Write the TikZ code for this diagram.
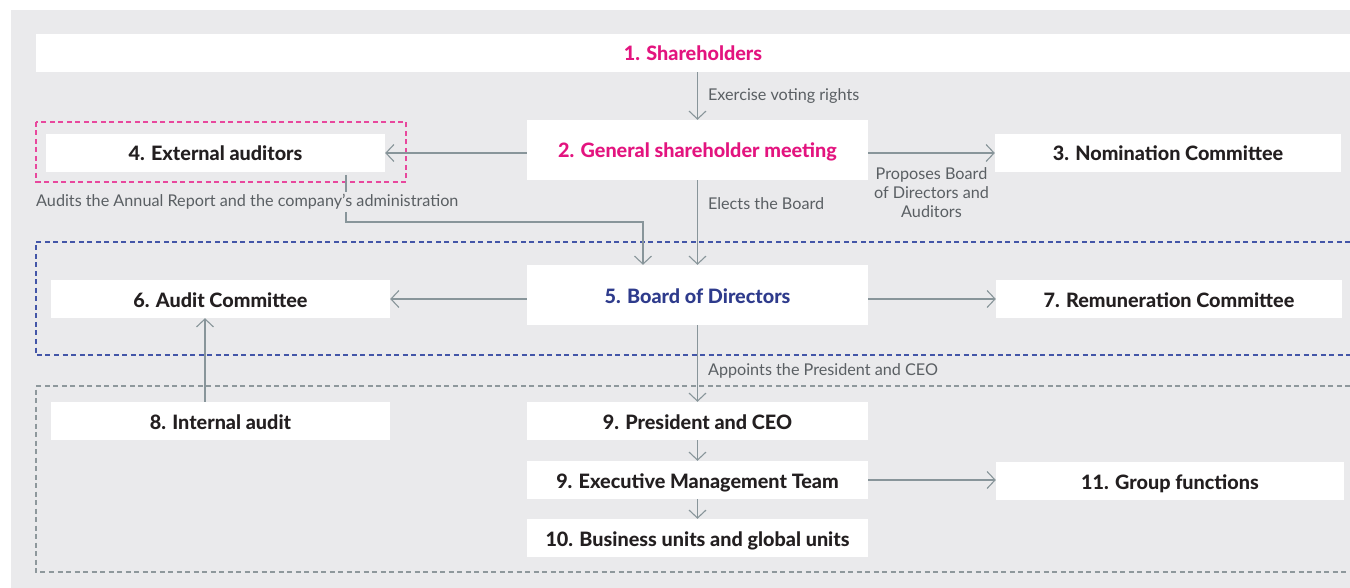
\documentclass[tikz,border=0pt]{standalone}
\usepackage{fontspec}
\setmainfont{Lato}[BoldFont={Lato Heavy}]
\usetikzlibrary{arrows.meta}

\definecolor{panel}{HTML}{EAEAEC}
\definecolor{ink}{HTML}{231F20}
\definecolor{owners}{HTML}{E3147F}
\definecolor{boardblue}{HTML}{2E3B8C}
\definecolor{ownersline}{HTML}{E8489D}
\definecolor{boardline}{HTML}{4356A8}
\definecolor{opsline}{HTML}{8E989C}
\definecolor{linkgrey}{HTML}{88959A}
\definecolor{notegrey}{HTML}{5A5F63}

\begin{document}
\begin{tikzpicture}[x=1pt,y=-1pt,
        box/.style={fill=white,inner sep=0pt,minimum height=38pt,text=ink,
            text height=17pt,text depth=1pt,font=\fontsize{19.8}{22}\selectfont\bfseries},
        wide box/.style={box,minimum height=60pt,minimum width=341pt},
        link/.style={-{Straight Barb[length=8pt,width=17pt]},draw=linkgrey,line width=1.1pt},
        note/.style={inner sep=0pt,text=notegrey,font=\fontsize{16.2}{19}\selectfont},
        frame/.style={dash pattern=on 5pt off 3.5pt,line width=1.1pt}]

    \useasboundingbox (0,0) rectangle (1350,588);
    \fill[panel] (11,10) rectangle (1350,588);

    \draw[frame,draw=ownersline] (36,122) rectangle (406,182);
    \draw[frame,draw=boardline] (1350,242) -| (36,355) -- (1350,355);
    \draw[frame,draw=opsline] (1350,386) -| (36,572) -- (1350,572);

    \node[box,minimum width=1314pt,text=owners] (share) at (693,53) {1. Shareholders};
    \node[wide box,text=owners] (meeting) at (697.5,150) {2. General shareholder meeting};
    \node[box,minimum width=339pt] (extaud) at (215.5,153) {4. External auditors};
    \node[box,minimum width=346pt] (nomination) at (1168,153) {3. Nomination Committee};
    \node[wide box,text=boardblue] (board) at (697.5,295) {5. Board of Directors};
    \node[box,minimum width=339pt] (auditcom) at (220.5,299) {6. Audit Committee};
    \node[box,minimum width=346pt] (remuneration) at (1169,299) {7. Remuneration Committee};
    \node[box,minimum width=339pt] (internal) at (220.5,421) {8. Internal audit};
    \node[box,minimum width=341pt] (ceo) at (697.5,421) {9. President and CEO};
    \node[box,minimum width=341pt] (emt) at (697.5,480) {9. Executive Management Team};
    \node[box,minimum width=341pt] (units) at (697.5,538) {10. Business units and global units};
    \node[box,minimum width=348pt] (group) at (1170,481) {11. Group functions};

    \coordinate (audstart) at (346,175);
    \coordinate (audbend) at (643,222);

    \draw[link] (meeting.north |- share.south) -- (meeting.north)
        node[note,pos=0.5,anchor=west,xshift=10pt] (votenote) {Exercise voting rights};
    \draw[link] (meeting.west |- extaud) -- (extaud.east);
    \draw[link] (meeting.east |- nomination) -- (nomination.west)
        node[note,pos=0.5,anchor=north,yshift=-14pt,align=center] (proposenote)
        {Proposes Board\\of Directors and\\Auditors};
    \draw[link] (meeting) -- (board)
        node[note,pos=0.28,anchor=west,xshift=10pt] (electnote) {Elects the Board};
    \draw[link] (audstart) |- (audbend) -- (audbend |- board.north);
    \node[note,fill=panel,inner ysep=2pt,anchor=west] (auditnote) at (36,202)
        {Audits the Annual Report and the company’s administration};

    \draw[link] (board.west |- auditcom) -- (auditcom.east);
    \draw[link] (board.east |- remuneration) -- (remuneration.west);
    \draw[link] ([xshift=-15.5pt]internal.north) -- ([xshift=-15.5pt]auditcom.south);
    \draw[link] (board) -- (ceo)
        node[note,pos=0.6,anchor=west,xshift=10pt] (appointnote) {Appoints the President and CEO};
    \draw[link] (ceo) -- (emt);
    \draw[link] (emt) -- (units);
    \draw[link] (emt.east) -- (emt.east -| group.west);
\end{tikzpicture}
\end{document}
